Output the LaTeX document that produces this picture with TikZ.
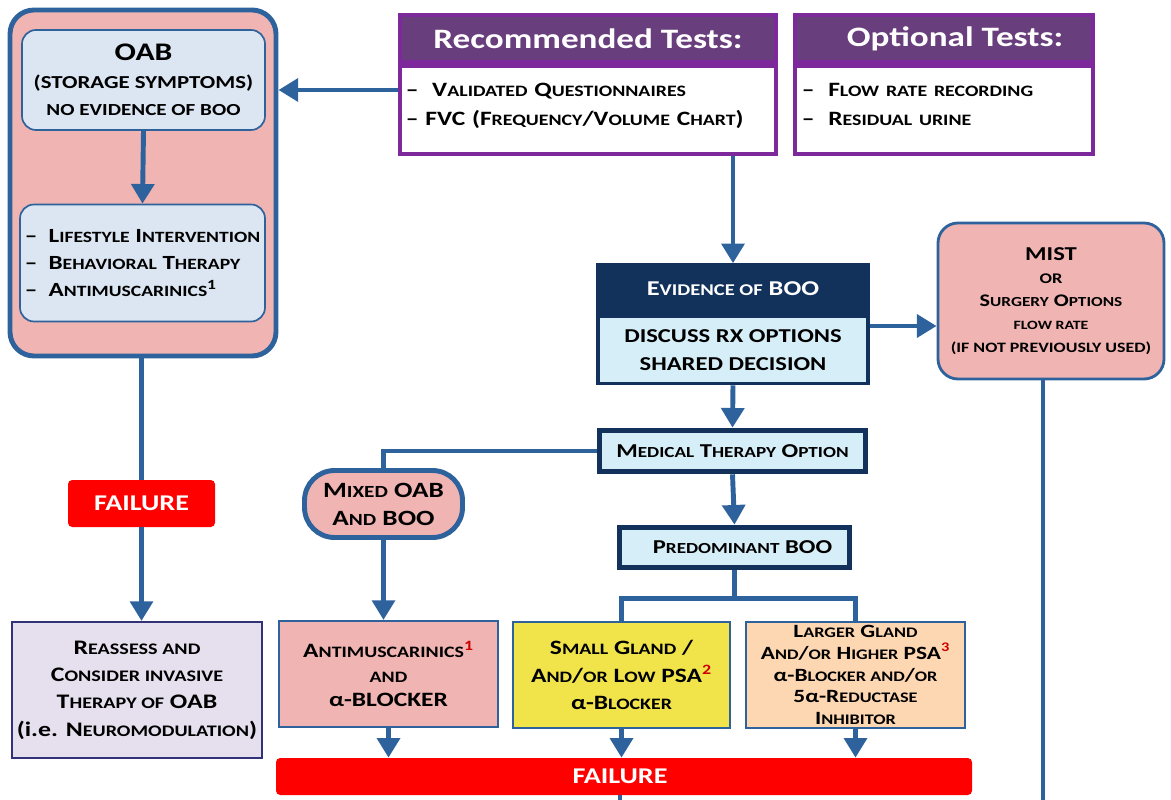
\documentclass[tikz,border=0pt]{standalone}
\usepackage{fontspec}
\setmainfont{Carlito}[FakeStretch=1.25]
\usetikzlibrary{arrows.meta,positioning,calc}
\definecolor{flowblue}{RGB}{46,98,156}
\definecolor{navy}{RGB}{18,50,92}
\definecolor{pinkfill}{RGB}{240,180,178}
\definecolor{paleblue}{RGB}{219,230,242}
\definecolor{cyanfill}{RGB}{214,238,248}
\definecolor{purpleline}{RGB}{125,40,155}
\definecolor{purplehead}{RGB}{105,62,125}
\definecolor{failred}{RGB}{255,0,0}
\definecolor{yellowfill}{RGB}{240,228,74}
\definecolor{peachfill}{RGB}{253,214,178}
\definecolor{lavender}{RGB}{230,224,238}
\definecolor{lavline}{RGB}{50,50,120}
\makeatletter
% reduced capitals for the small-caps look
\newcommand{\smc}[1]{{\fontsize{\strip@pt\dimexpr0.78\dimexpr\f@size pt\relax\relax}{\f@baselineskip}\selectfont #1}}
\makeatother
\newcommand{\rednote}[1]{\textsuperscript{\color{red!80!black}#1}}

\begin{document}
\begin{tikzpicture}[x=0.025cm, y=-0.025cm,
    wh/.style 2 args={minimum width=#1*0.025cm, minimum height=#2*0.025cm, inner sep=2pt},
    txt/.style={font=\fontsize{14}{19.5}\selectfont\bfseries, align=center},
    roundbox/.style={txt, rectangle, rounded corners=0.6cm, draw=flowblue, line width=3.5pt, fill=pinkfill},
    innerbox/.style={txt, rectangle, rounded corners=0.35cm, draw=flowblue, line width=1.2pt, fill=paleblue},
    testhead/.style={rectangle, draw=purpleline, line width=3pt, fill=purplehead, text=white, font=\fontsize{20}{24}\selectfont\bfseries},
    testbody/.style={txt, rectangle, draw=purpleline, line width=3pt, fill=white, align=left, font=\fontsize{14.5}{20.5}\selectfont\bfseries},
    navyhead/.style={txt, rectangle, draw=navy, line width=2.5pt, fill=navy, text=white},
    navybody/.style={txt, rectangle, draw=navy, line width=2.5pt, fill=cyanfill},
    option/.style={txt, rectangle, draw=navy, line width=4pt, fill=cyanfill},
    choice/.style={txt, rectangle, draw=flowblue, line width=1.5pt},
    failbox/.style={rectangle, rounded corners=3pt, fill=failred, text=white, font=\fontsize{16}{18}\selectfont\bfseries},
    flow/.style={-{Triangle[width=16pt,length=14pt]}, line width=3.5pt, flowblue},
    link/.style={line width=3.5pt, flowblue}
]
\useasboundingbox (0,0) rectangle (1171,800);

% left column
\node[roundbox, wh={266}{346}] (oab) at (143,183) {};
\node[innerbox, wh={243}{100}] (oabtop) at (143.5,80)
    {{\fontsize{18}{22}\selectfont OAB}\\
     {\fontsize{13}{19.5}\selectfont (STORAGE SYMPTOMS)}\\
     {\fontsize{12}{18}\selectfont NO EVIDENCE OF BOO}};
\node[innerbox, wh={245}{117}, align=left, font=\fontsize{14.3}{19.5}\selectfont\bfseries] (oablist) at (142.5,263)
    {--\ \ L\smc{IFESTYLE} I\smc{NTERVENTION}\\
     --\ \ B\smc{EHAVIORAL} T\smc{HERAPY}\\
     --\ \ A\smc{NTIMUSCARINICS}\textsuperscript{1}};
\node[failbox, wh={147}{47}] (failL) at (141.5,503.5) {FAILURE};
\node[choice, wh={250}{136}, draw=lavline, fill=lavender, font=\fontsize{14.7}{19.5}\selectfont\bfseries] (reassess) at (137,690)
    {R\smc{EASSESS AND}\\
     C\smc{ONSIDER INVASIVE}\\
     T\smc{HERAPY OF} OAB\\
     (i.e. N\smc{EUROMODULATION})};

% tests
\node[testhead, wh={376}{47}] (rectop) at (588,38.5) {Recommended Tests:};
\node[testbody, wh={376}{88}, anchor=north, text width=9.1cm] (recbody) at (rectop.south)
    {-- \ V\smc{ALIDATED} Q\smc{UESTIONNAIRES}\\
     -- FVC (F\smc{REQUENCY}/V\smc{OLUME} C\smc{HART})\\[-12pt]\mbox{}};
\node[testhead, wh={298}{47}] (opttop) at (944,38.5) {\hspace*{0.55cm}Optional Tests:};
\node[testbody, wh={298}{88}, anchor=north, text width=7.1cm] (optbody) at (opttop.south)
    {--\ \ F\smc{LOW RATE RECORDING}\\
     --\ \ R\smc{ESIDUAL URINE}\\[-12pt]\mbox{}};

% BOO branch
\node[navyhead, wh={270}{48}, font=\fontsize{15}{19}\selectfont\bfseries] (evtop) at (733,289) {E\smc{VIDENCE OF} BOO};
\node[navybody, wh={270}{67}, anchor=north] (evbody) at (evtop.south)
    {DISCUSS RX OPTIONS\\ SHARED DECISION};
\node[roundbox, line width=2pt, rounded corners=0.5cm, wh={226}{156}, font=\fontsize{12.6}{16.3}\selectfont\bfseries] (mist) at (1051,301)
    {{\fontsize{14}{16.3}\selectfont MIST}\\
     {\fontsize{10.5}{16.3}\selectfont OR}\\
     S\smc{URGERY} O\smc{PTIONS}\\
     {\fontsize{9}{16.3}\selectfont FLOW RATE}\\
     {\fontsize{10.2}{16.3}\selectfont (IF NOT PREVIOUSLY USED)}};
\node[option, wh={266}{41}] (medical) at (732.5,451)
    {M\smc{EDICAL} T\smc{HERAPY} O\smc{PTION}};
\node[option, wh={230}{40}] (predom) at (734.5,547.5)
    {\hspace*{0.4cm}P\smc{REDOMINANT} BOO};
\node[roundbox, rounded corners=0.75cm, wh={158}{67}, font=\fontsize{15.5}{20}\selectfont\bfseries] (mixed) at (383.5,504)
    {M\smc{IXED} OAB\\ A\smc{ND} BOO};

% treatments
\node[choice, wh={219}{106}, fill=pinkfill, font=\fontsize{14.5}{17.5}\selectfont\bfseries] (antim) at (388.5,674)
    {A\smc{NTIMUSCARINICS}\rednote{1}\\ \smc{AND}\\ α-BLOCKER};
\node[choice, wh={217}{106}, fill=yellowfill, font=\fontsize{14.5}{19.5}\selectfont\bfseries] (small) at (621.5,675)
    {S\smc{MALL} G\smc{LAND} /\\ A\smc{ND}/\smc{OR} L\smc{OW} PSA\rednote{2}\\ α-B\smc{LOCKER}};
\node[choice, wh={219}{106}, fill=peachfill, font=\fontsize{13.3}{15.5}\selectfont\bfseries] (large) at (855.5,675)
    {L\smc{ARGER} G\smc{LAND}\\ A\smc{ND}/\smc{OR} H\smc{IGHER} PSA\rednote{3}\\
     α-B\smc{LOCKER AND}/\smc{OR}\\ 5α-R\smc{EDUCTASE}\\ I\smc{NHIBITOR}};
\node[failbox, wh={696}{37}] (failB) at (624,776.5) {\hspace*{-0.2cm}FAILURE};

\coordinate (fork) at ($(predom.south)+(0,28)$);
\coordinate (mistdrop) at (1043,800);
\coordinate (failend) at (620,800);

% connectors
\draw[flow] (recbody.west |- 0,90) -- (oab.east |- 0,90);
\draw[flow] (recbody.south -| evtop.north) -- (evtop.north);
\draw[flow] (oabtop.south) -- (oablist.north);
\draw[flow] (evbody.east |- 0,326) -- (mist.west |- 0,326);
\draw[flow] (evbody.south) -- (medical.north);
\draw[flow] (medical.south) -- (predom.north);
\draw[link] (medical.west) -| (mixed.north);
\draw[flow] (mixed.south) -- (mixed.south |- antim.north);
\draw[link] (predom.south) -- (fork);
\draw[link] (small.north) |- (fork) -| (large.north);
\draw[link] (oab.south -| failL.north) -- (failL.north);
\draw[flow] (failL.south) -- (failL.south |- reassess.north);
\draw[flow] (antim.south) -- (antim.south |- failB.north);
\draw[flow] (small.south) -- (small.south |- failB.north);
\draw[flow] (large.south) -- (large.south |- failB.north);
\draw[link] (mistdrop |- mist.south) -- (mistdrop);
\draw[link] (failend |- failB.south) -- (failend);
\end{tikzpicture}
\end{document}
